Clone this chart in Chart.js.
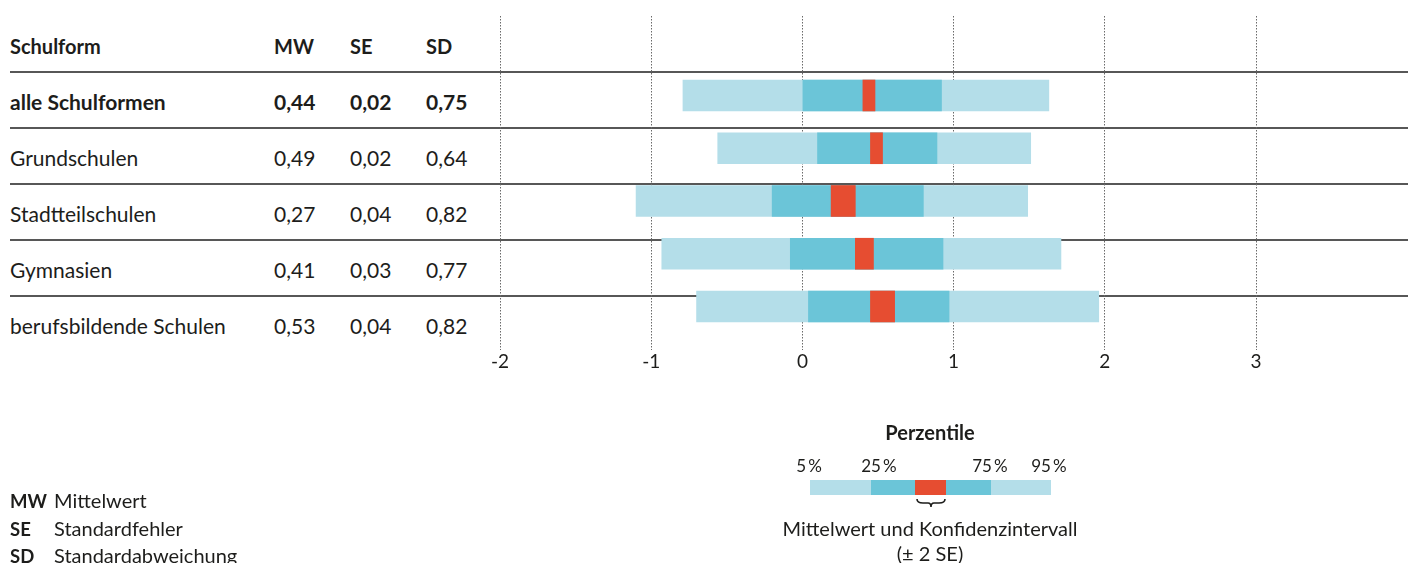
<!DOCTYPE html>
<html lang="de">
<head>
<meta charset="utf-8">
<title>Schulformen – Perzentile</title>
<script src="https://cdn.jsdelivr.net/npm/chart.js@4.4.1/dist/chart.umd.min.js"></script>
<style>
  html, body { margin: 0; padding: 0; background: #fff; }
  #wrap { position: relative; width: 1411px; height: 563px; overflow: hidden;
          font-family: Lato, "Open Sans", sans-serif; color: #1d1d1b; }
  #chart { position: absolute; left: 0; top: 0; }
  .rule { position: absolute; left: 10px; width: 1398px; height: 0; border-top: 2px solid #575757; }
  .cell { position: absolute; font-size: 21px; line-height: 24px; white-space: nowrap; }
  .cell.h { font-size: 20px; }
  .b { font-weight: 700; }
  .leg { position: absolute; white-space: nowrap; }
  .seg { position: absolute; top: 480px; height: 15px; }
  .abbr { position: absolute; left: 10px; font-size: 20px; line-height: 24px; white-space: nowrap; }
  .abbr span { display: inline-block; width: 44px; font-size: 18.5px; font-weight: 700; }
</style>
</head>
<body>
<div id="wrap">
  <div id="table"></div>
  <canvas id="chart" width="1411" height="563"></canvas>

  <!-- percentile key -->
  <div class="leg b" style="left:830px;width:200px;text-align:center;top:420px;font-size:20px;line-height:24px;">Perzentile</div>
  <div id="keyLabels"></div>
  <div class="seg" style="left:810px;width:61px;background:#b4dee9;"></div>
  <div class="seg" style="left:871px;width:44px;background:#6bc5d8;"></div>
  <div class="seg" style="left:915px;width:31px;background:#e64d31;"></div>
  <div class="seg" style="left:946px;width:45px;background:#6bc5d8;"></div>
  <div class="seg" style="left:991px;width:60px;background:#b4dee9;"></div>
  <svg style="position:absolute;left:915px;top:498px;" width="32" height="12" viewBox="0 0 32 12">
    <path d="M2 1 Q2 5 8 5 L13 5 Q16 5 16 9 Q16 5 19 5 L24 5 Q30 5 30 1" fill="none" stroke="#1d1d1b" stroke-width="1.6"/>
  </svg>
  <div class="leg" style="left:730px;width:400px;text-align:center;top:515px;font-size:20px;line-height:26px;">Mittelwert und Konfidenzintervall</div>
  <div class="leg" style="left:730px;width:400px;text-align:center;top:540px;font-size:20px;line-height:26px;">(± 2 SE)</div>

  <!-- abbreviations -->
  <div class="abbr" style="top:488px;"><span>MW</span>Mittelwert</div>
  <div class="abbr" style="top:516px;"><span>SE</span>Standardfehler</div>
  <div class="abbr" style="top:543px;"><span>SD</span>Standardabweichung</div>
</div>

<script>
// School types and their statistics
const categories = ['alle Schulformen', 'Grundschulen', 'Stadtteilschulen', 'Gymnasien', 'berufsbildende Schulen'];
const mw  = [0.44, 0.49, 0.27, 0.41, 0.53];
const se  = [0.02, 0.02, 0.04, 0.03, 0.04];
const sd  = [0.75, 0.64, 0.82, 0.77, 0.82];

// Percentiles per school type
const p5  = [-0.79, -0.56, -1.10, -0.93, -0.70];
const p25 = [ 0.00,  0.10, -0.20, -0.08,  0.04];
const p75 = [ 0.92,  0.89,  0.80,  0.93,  0.97];
const p95 = [ 1.63,  1.51,  1.49,  1.71,  1.96];

// Axis ticks
const xTicks = [-2, -1, 0, 1, 2, 3];

// Header and percentile key labels
const headers = ['Schulform', 'MW', 'SE', 'SD'];
const keyLabels = ['5\u2009%', '25\u2009%', '75\u2009%', '95\u2009%'];

const LIGHT = '#b4dee9', DARK = '#6bc5d8', RED = '#e64d31';
const fmt = v => v.toFixed(2).replace('.', ',');

// ---- table on the left ----
const table = document.getElementById('table');
const colX = [10, 274, 350, 426];
function addCell(text, x, centerY, cls) {
  const d = document.createElement('div');
  d.className = 'cell ' + cls;
  d.style.left = x + 'px';
  d.style.top = (centerY - 12) + 'px';
  d.textContent = text;
  table.appendChild(d);
}
headers.forEach((h, j) => addCell(h, colX[j], 46, 'h b'));
categories.forEach((c, i) => {
  const rule = document.createElement('div');
  rule.className = 'rule';
  rule.style.top = (71 + 56 * i) + 'px';
  table.appendChild(rule);
  const cy = 102 + 56 * i;
  const cls = i === 0 ? 'b' : '';
  addCell(c, colX[0], cy, cls);
  addCell(fmt(mw[i]), colX[1], cy, cls);
  addCell(fmt(se[i]), colX[2], cy, cls);
  addCell(fmt(sd[i]), colX[3], cy, cls);
});

// ---- percentile key labels ----
const kl = document.getElementById('keyLabels');
[809, 879, 990, 1049].forEach((cx, k) => {
  const d = document.createElement('div');
  d.className = 'leg';
  d.style.cssText = `left:${cx - 40}px;width:80px;text-align:center;top:455px;font-size:17px;line-height:22px;`;
  d.textContent = keyLabels[k];
  kl.appendChild(d);
});

// ---- chart ----
Chart.defaults.font.family = 'Lato, "Open Sans", sans-serif';
Chart.defaults.color = '#1d1d1b';

const range = (a, b) => categories.map((_, i) => ({ x: [a[i], b[i]], y: i }));
const ci = categories.map((_, i) => ({ x: [mw[i] - 2 * se[i], mw[i] + 2 * se[i]], y: i }));

new Chart(document.getElementById('chart'), {
  type: 'bar',
  data: {
    datasets: [
      { label: 'Mittelwert ± 2 SE', data: ci, backgroundColor: RED },
      { label: '25–75 %', data: range(p25, p75), backgroundColor: DARK },
      { label: '5–95 %', data: range(p5, p95), backgroundColor: LIGHT }
    ]
  },
  options: {
    indexAxis: 'y',
    responsive: false,
    animation: false,
    layout: { padding: { left: 500, right: 155, top: 16, bottom: 183 } },
    datasets: { bar: { grouped: false, barThickness: 31, borderWidth: 0, borderSkipped: false } },
    plugins: { legend: { display: false }, tooltip: { enabled: false } },
    scales: {
      x: {
        type: 'linear',
        min: -2, max: 3,
        afterBuildTicks: s => { s.ticks = xTicks.map(v => ({ value: v })); },
        afterFit: s => { s.height = 30; },
        grid: { color: '#6a6a6a', lineWidth: 1, drawTicks: false },
        border: { display: false, dash: [1.5, 1.5] },
        ticks: { font: { size: 19 }, padding: 0, color: '#1d1d1b' }
      },
      y: {
        type: 'linear',
        reverse: true,
        offset: false,
        min: -1.507, max: 4.825,
        display: false
      }
    }
  }
});
</script>
</body>
</html>
